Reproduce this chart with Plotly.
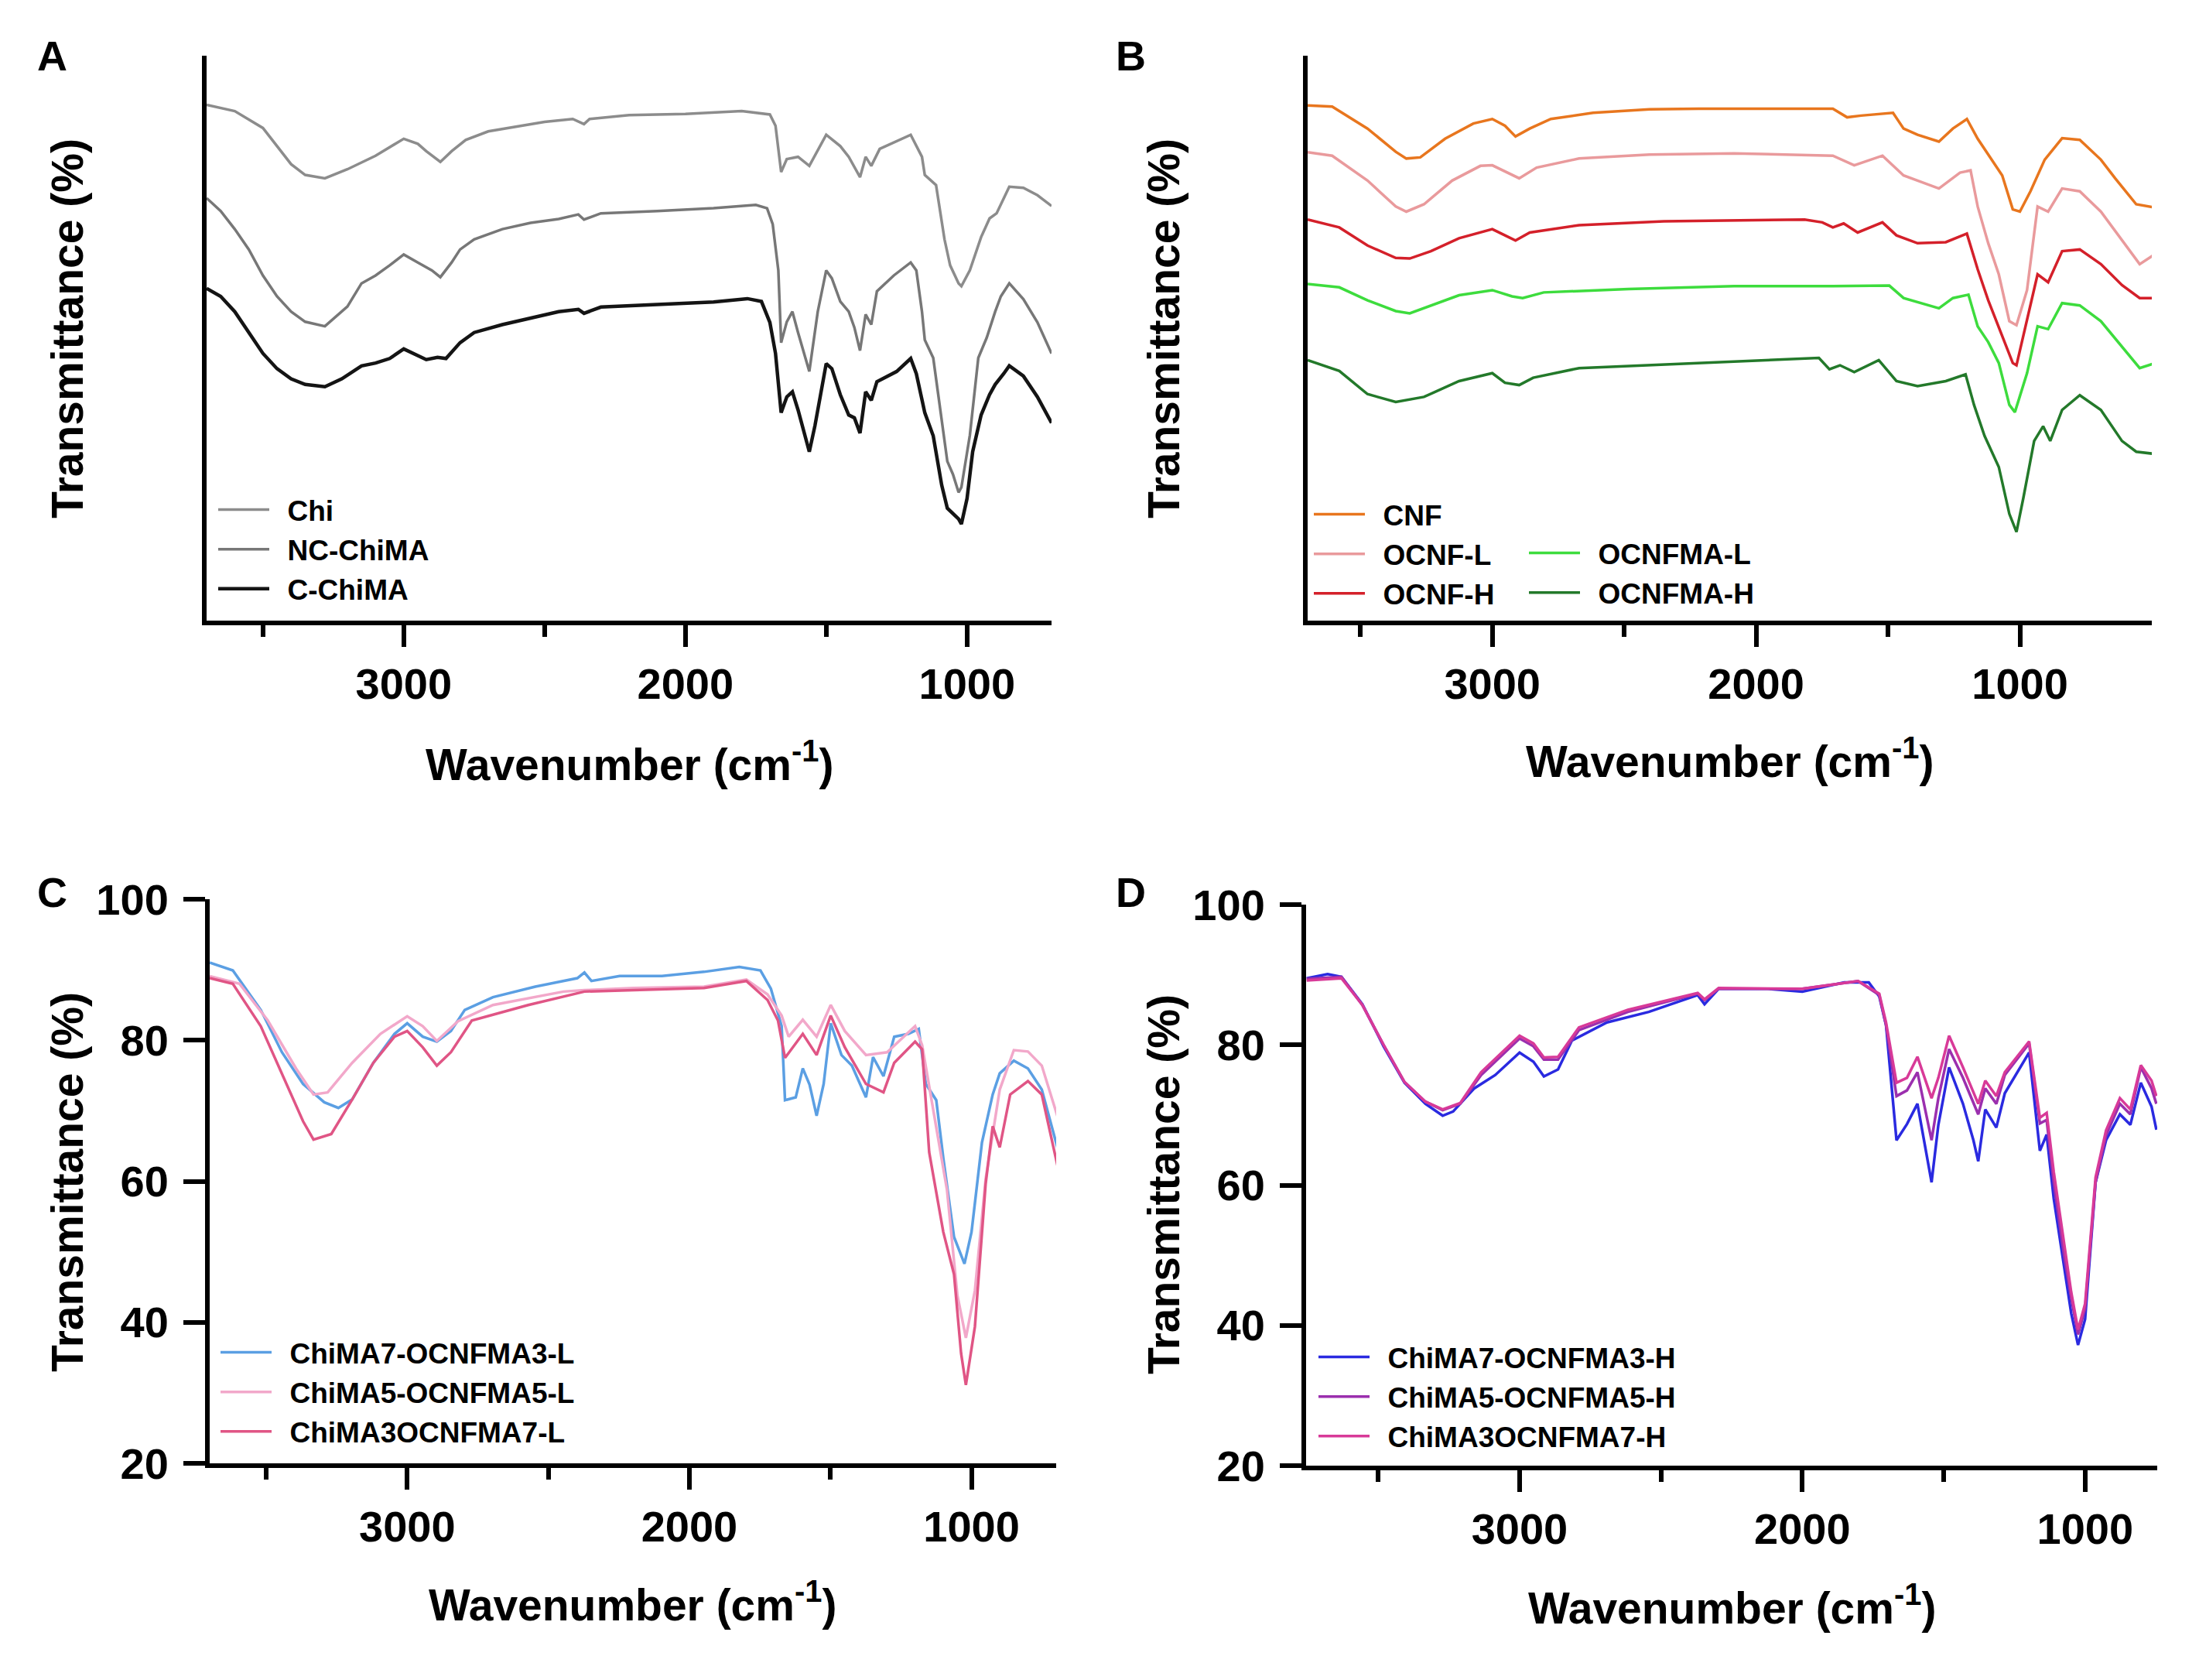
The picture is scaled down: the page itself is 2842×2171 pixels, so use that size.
import plotly.graph_objects as go

FONT = 'Liberation Sans, Arial, Helvetica, sans-serif'
W, H = 2842, 2171
PAD_X, PAD_Y = 6, 8  # offset of the figure div inside the page

# ---------------- panel A (arbitrary offset units, 0-100 of axis height)
chi_wn = [3700, 3600, 3500, 3450, 3400, 3350, 3280, 3200, 3100, 3000, 2950, 2920, 2870, 2830,
          2780, 2700, 2600, 2500, 2400, 2360, 2340, 2200, 2000, 1800, 1700, 1680, 1660, 1640,
          1600, 1560, 1500, 1450, 1420, 1380, 1360, 1340, 1310, 1250, 1200, 1160, 1150, 1110,
          1080, 1060, 1030, 1020, 990, 950, 920, 895, 850, 800, 750, 700]
chi_t = [91.3, 90.2, 87.2, 84.0, 80.8, 78.9, 78.3, 79.9, 82.3, 85.3, 84.4, 83.1, 81.2, 83.1,
         85.1, 86.6, 87.5, 88.3, 88.8, 87.9, 88.8, 89.5, 89.7, 90.2, 89.6, 87.6, 79.4, 81.7,
         82.1, 80.5, 86.0, 84.0, 82.1, 78.5, 82.1, 80.5, 83.5, 84.9, 86.0, 82.1, 78.9, 77.1,
         67.5, 62.9, 59.7, 59.2, 62.0, 67.9, 71.2, 72.1, 76.8, 76.6, 75.3, 73.4]

ncchima_wn = [3700, 3650, 3600, 3550, 3500, 3450, 3400, 3350, 3280, 3200, 3150, 3100, 3050, 3000,
              2950, 2900, 2870, 2830, 2800, 2750, 2650, 2550, 2450, 2380, 2360, 2300, 2100, 1900,
              1750, 1710, 1690, 1670, 1660, 1640, 1620, 1600, 1560, 1530, 1500, 1480, 1450, 1420,
              1400, 1380, 1360, 1340, 1320, 1260, 1200, 1180, 1160, 1150, 1120, 1090, 1070, 1050,
              1030, 1020, 990, 960, 930, 900, 880, 850, 800, 750, 700]
ncchima_t = [74.8, 72.5, 69.3, 65.7, 61.1, 57.4, 54.7, 52.9, 52.1, 55.6, 59.7, 61.1, 62.9, 64.8,
             63.4, 62.0, 60.8, 63.4, 65.7, 67.5, 69.3, 70.4, 71.1, 71.9, 71.0, 72.1, 72.5, 73.0,
             73.6, 73.0, 70.2, 62.0, 49.2, 52.9, 54.7, 51.0, 44.1, 54.7, 62.0, 60.6, 56.5, 54.7,
             51.9, 47.8, 54.2, 52.4, 58.3, 61.1, 63.4, 62.0, 54.7, 49.7, 46.5, 35.5, 28.2, 25.9,
             22.7, 23.6, 32.8, 46.5, 50.1, 54.7, 57.4, 59.7, 56.9, 52.8, 47.3]

cchima_wn = [3700, 3650, 3600, 3550, 3500, 3450, 3400, 3350, 3280, 3220, 3150, 3100, 3050, 3000,
             2950, 2920, 2880, 2850, 2800, 2750, 2650, 2550, 2450, 2380, 2360, 2300, 2100, 1900,
             1780, 1730, 1700, 1680, 1660, 1640, 1620, 1600, 1560, 1540, 1500, 1480, 1450, 1420,
             1400, 1380, 1360, 1340, 1320, 1250, 1200, 1180, 1160, 1150, 1120, 1090, 1070, 1050,
             1030, 1020, 1000, 980, 950, 920, 900, 870, 850, 800, 750, 700]
cchima_t = [58.8, 57.4, 54.7, 51.0, 47.3, 44.6, 42.8, 41.8, 41.4, 42.8, 45.1, 45.6, 46.4, 48.1,
            46.9, 46.2, 46.6, 46.4, 49.2, 51.0, 52.4, 53.6, 54.7, 55.1, 54.4, 55.5, 55.9, 56.4,
            57.0, 56.5, 52.8, 47.3, 36.8, 39.6, 40.5, 37.3, 29.9, 34.5, 45.5, 44.6, 40.0, 36.4,
            35.9, 33.2, 40.5, 39.0, 42.3, 44.1, 46.4, 43.7, 39.1, 36.8, 32.7, 24.0, 19.9, 19.0,
            18.0, 17.1, 21.6, 29.9, 36.4, 40.0, 41.8, 43.7, 45.1, 43.3, 39.6, 35.0]

# ---------------- panel B (arbitrary offset units)
cnf_wn = [3700, 3607, 3473, 3366, 3326, 3273, 3179, 3072, 3000, 2952, 2912, 2858, 2778, 2618,
          2404, 2217, 1949, 1709, 1655, 1602, 1481, 1441, 1388, 1307, 1254, 1201, 1160, 1120,
          1067, 1027, 1000, 960, 906, 840, 773, 693, 639, 559, 487]
cnf_t = [91.2, 91.0, 87.1, 83.0, 81.8, 82.0, 85.3, 88.0, 88.8, 87.6, 85.7, 87.1, 88.8, 89.9,
         90.5, 90.6, 90.6, 90.6, 89.1, 89.4, 89.9, 87.1, 86.0, 84.8, 87.1, 88.8, 85.3, 82.5,
         78.8, 72.8, 72.4, 76.0, 81.6, 85.4, 85.1, 81.6, 78.3, 73.7, 73.1]

ocnf_l_wn = [3700, 3607, 3473, 3366, 3326, 3259, 3152, 3045, 3000, 2939, 2898, 2832, 2671, 2404,
             2083, 1709, 1628, 1521, 1441, 1388, 1307, 1227, 1187, 1160, 1120, 1080, 1040, 1013,
             973, 933, 893, 840, 773, 693, 626, 546, 487]
ocnf_l_t = [82.9, 82.3, 77.9, 73.3, 72.4, 73.7, 77.9, 80.5, 80.6, 79.3, 78.3, 80.2, 81.8, 82.5,
            82.7, 82.3, 80.6, 82.3, 78.8, 77.9, 76.5, 79.3, 79.7, 73.3, 66.8, 61.3, 53.0, 52.3,
            58.5, 73.3, 72.4, 76.5, 76.0, 72.4, 68.2, 63.1, 64.9]

ocnf_h_wn = [3700, 3580, 3473, 3366, 3313, 3233, 3126, 3000, 2952, 2912, 2858, 2671, 2350, 1816,
             1749, 1709, 1668, 1615, 1521, 1468, 1388, 1281, 1201, 1160, 1120, 1067, 1027, 1013,
             973, 933, 893, 840, 773, 693, 613, 546, 487]
ocnf_h_t = [71.0, 69.6, 66.4, 64.2, 64.1, 65.4, 67.7, 69.3, 68.2, 67.3, 68.7, 70.0, 70.7, 71.0,
            70.5, 69.6, 70.3, 68.7, 70.5, 68.2, 66.8, 67.0, 68.5, 62.2, 56.7, 50.2, 45.6, 45.2,
            53.0, 61.3, 59.9, 65.4, 65.7, 63.1, 59.4, 57.1, 57.1]

ocnfma_l_wn = [3700, 3580, 3473, 3366, 3313, 3233, 3126, 3000, 2925, 2885, 2805, 2484, 2083, 1709,
               1495, 1441, 1374, 1307, 1254, 1195, 1160, 1120, 1080, 1040, 1019, 973, 933, 893,
               840, 773, 693, 613, 546, 487]
ocnfma_l_t = [59.6, 59.0, 56.7, 54.8, 54.4, 55.8, 57.6, 58.5, 57.4, 57.1, 58.1, 58.7, 59.2, 59.2,
              59.3, 57.1, 56.2, 55.3, 57.1, 57.7, 52.1, 49.3, 45.6, 38.2, 36.9, 43.8, 52.1, 51.6,
              56.2, 55.8, 53.0, 48.4, 44.7, 45.6]

ocnfma_h_wn = [3700, 3580, 3473, 3366, 3259, 3126, 3000, 2952, 2898, 2845, 2671, 2350, 1816, 1762,
               1722, 1682, 1628, 1535, 1468, 1388, 1281, 1206, 1174, 1134, 1080, 1040, 1013, 987,
               946, 912, 885, 840, 773, 693, 613, 559, 487]
ocnfma_h_t = [46.1, 44.2, 40.1, 38.7, 39.6, 42.4, 43.8, 42.1, 41.7, 43.0, 44.7, 45.3, 46.4, 46.5,
              44.5, 45.2, 44.0, 46.1, 42.4, 41.5, 42.4, 43.6, 38.2, 32.7, 27.2, 18.9, 15.7, 21.7,
              31.8, 34.4, 31.8, 37.3, 39.9, 37.3, 31.8, 29.9, 29.5]

# ---------------- panel C (transmittance %)
c73l_wn = [3700, 3618, 3519, 3444, 3369, 3294, 3244, 3195, 3120, 3045, 3000, 2945, 2895, 2845,
           2796, 2696, 2546, 2397, 2372, 2347, 2247, 2097, 1948, 1823, 1748, 1711, 1673, 1661,
           1623, 1598, 1574, 1549, 1524, 1499, 1461, 1424, 1374, 1349, 1312, 1274, 1224, 1187,
           1162, 1125, 1100, 1062, 1025, 1000, 963, 925, 900, 850, 800, 751, 693]
c73l_t = [91.0, 89.9, 84.3, 78.3, 73.8, 71.2, 70.4, 71.6, 76.8, 80.9, 82.4, 80.5, 79.8, 81.3,
          84.3, 86.1, 87.6, 88.8, 89.6, 88.4, 89.1, 89.1, 89.7, 90.4, 89.9, 87.3, 82.0, 71.5,
          71.9, 76.0, 73.7, 69.3, 73.8, 82.4, 77.9, 76.4, 71.9, 77.6, 74.9, 80.5, 80.9, 81.6,
          73.8, 71.5, 63.3, 52.1, 48.3, 52.8, 65.5, 72.3, 75.3, 77.1, 76.0, 73.0, 64.4]

c55l_wn = [3700, 3594, 3494, 3394, 3332, 3282, 3195, 3095, 3000, 2945, 2895, 2820, 2696, 2446,
           2372, 2197, 1948, 1798, 1723, 1673, 1648, 1598, 1549, 1499, 1449, 1374, 1299, 1200,
           1175, 1125, 1087, 1050, 1020, 988, 950, 900, 850, 800, 751, 693]
c55l_t = [89.1, 88.0, 82.8, 76.0, 72.3, 72.6, 76.8, 80.9, 83.4, 82.0, 79.9, 82.7, 85.0, 86.9,
          87.1, 87.4, 87.6, 88.6, 86.5, 83.5, 80.5, 82.9, 80.5, 85.0, 81.3, 77.9, 78.3, 82.0,
          79.3, 67.8, 58.8, 43.8, 37.8, 44.5, 60.3, 73.0, 78.6, 78.4, 76.4, 68.9]

c37l_wn = [3700, 3618, 3519, 3444, 3369, 3332, 3269, 3195, 3120, 3045, 3000, 2945, 2895, 2845,
           2771, 2571, 2372, 2197, 1948, 1798, 1723, 1686, 1661, 1598, 1549, 1499, 1449, 1374,
           1312, 1274, 1200, 1175, 1150, 1100, 1062, 1037, 1020, 988, 950, 925, 900, 863, 800,
           751, 693]
c37l_t = [88.8, 88.0, 82.0, 75.3, 68.5, 65.9, 66.7, 71.6, 76.8, 80.5, 81.3, 79.0, 76.4, 78.3,
          82.8, 85.0, 86.9, 87.1, 87.4, 88.4, 85.7, 82.8, 77.5, 80.9, 77.9, 83.5, 79.0, 73.8,
          72.6, 76.8, 79.8, 78.7, 64.1, 52.8, 46.8, 35.6, 31.1, 39.4, 59.6, 67.8, 64.8, 72.3,
          74.2, 72.3, 61.8]

# ---------------- panel D (transmittance %)
d73h_wn = [3753, 3679, 3630, 3556, 3481, 3407, 3333, 3272, 3235, 3160, 3086, 3000, 2951, 2914,
           2864, 2815, 2691, 2543, 2370, 2346, 2296, 2123, 2000, 1852, 1765, 1728, 1704, 1667,
           1630, 1593, 1543, 1519, 1481, 1432, 1395, 1378, 1353, 1314, 1284, 1198, 1160, 1136,
           1111, 1074, 1049, 1025, 1000, 963, 926, 877, 840, 803, 765, 748]
d73h_t = [89.5, 90.1, 89.7, 85.8, 79.8, 74.6, 71.6, 69.9, 70.5, 73.8, 75.7, 78.9, 77.6, 75.5,
          76.5, 80.6, 83.2, 84.7, 87.1, 85.8, 88.0, 88.0, 87.6, 88.9, 88.9, 86.9, 82.8, 66.4,
          68.7, 71.6, 60.4, 68.6, 76.8, 71.6, 66.4, 63.4, 70.8, 68.2, 73.1, 78.9, 64.9, 67.2,
          58.1, 48.4, 41.7, 37.2, 40.9, 60.4, 66.4, 70.1, 68.6, 74.6, 71.2, 67.9]

dh_wn = [3753, 3630, 3556, 3481, 3407, 3333, 3272, 3210, 3136, 3000, 2951, 2914, 2864, 2790,
         2617, 2370, 2346, 2296, 2000, 1803, 1728, 1704, 1667, 1630, 1593, 1543, 1519, 1481,
         1432, 1378, 1353, 1314, 1284, 1198, 1160, 1136, 1111, 1074, 1049, 1025, 1000, 963,
         926, 877, 840, 803, 765, 748]
d55h_t = [89.4, 89.7, 85.7, 80.0, 74.7, 71.9, 70.7, 71.6, 75.7, 80.9, 79.8, 77.9, 77.9, 82.1,
          84.7, 87.3, 86.4, 88.0, 88.0, 89.1, 87.1, 82.8, 72.7, 73.5, 76.1, 66.4, 72.4, 79.4,
          75.3, 70.1, 73.8, 71.6, 75.7, 80.2, 68.8, 69.3, 60.4, 49.9, 43.9, 38.7, 42.4, 60.4,
          67.1, 71.6, 70.1, 76.8, 73.8, 71.6]
d37h_t = [89.2, 89.5, 85.7, 80.0, 74.7, 71.9, 70.8, 71.7, 76.1, 81.3, 80.2, 78.2, 78.3, 82.5,
          85.0, 87.4, 86.5, 88.1, 88.0, 89.1, 87.3, 83.2, 74.6, 75.3, 78.3, 72.4, 75.3, 81.3,
          76.8, 71.6, 74.9, 72.7, 76.1, 80.5, 69.6, 70.3, 61.9, 51.4, 44.7, 39.4, 43.1, 61.1,
          67.8, 72.4, 70.8, 77.1, 74.9, 72.7]

x_major = [3000, 2000, 1000]
x_minor = [3500, 2500, 1500]
y_ticks_ct = [20, 40, 60, 80, 100]


# page pixel -> paper fraction
def px_x(v):
    return (v - PAD_X) / W


def px_y(v):
    return 1 - (v - PAD_Y) / H


fig = go.Figure()
GAP = '\u2002'  # a little air between legend key and label


def add_line(x, y, name, color, width, axis, legend):
    fig.add_trace(go.Scatter(x=x, y=y, name=GAP + name, mode='lines',
                             line=dict(color=color, width=width),
                             xaxis='x' + axis, yaxis='y' + axis, legend=legend))


add_line(chi_wn, chi_t, 'Chi', '#8c8c8c', 3.5, '', 'legend')
add_line(ncchima_wn, ncchima_t, 'NC-ChiMA', '#777777', 3.5, '', 'legend')
add_line(cchima_wn, cchima_t, 'C-ChiMA', '#141414', 4.5, '', 'legend')

add_line(cnf_wn, cnf_t, 'CNF', '#e8761e', 3.5, '2', 'legend2')
add_line(ocnf_l_wn, ocnf_l_t, 'OCNF-L', '#e99a9c', 3.5, '2', 'legend2')
add_line(ocnf_h_wn, ocnf_h_t, 'OCNF-H', '#d4202a', 3.5, '2', 'legend2')
add_line(ocnfma_l_wn, ocnfma_l_t, 'OCNFMA-L', '#3ddc3d', 3.5, '2', 'legend3')
add_line(ocnfma_h_wn, ocnfma_h_t, 'OCNFMA-H', '#23792a', 3.5, '2', 'legend3')

add_line(c73l_wn, c73l_t, 'ChiMA7-OCNFMA3-L', '#5b9fe3', 3.5, '3', 'legend4')
add_line(c55l_wn, c55l_t, 'ChiMA5-OCNFMA5-L', '#f2a8ca', 3.5, '3', 'legend4')
add_line(c37l_wn, c37l_t, 'ChiMA3OCNFMA7-L', '#e05585', 3.5, '3', 'legend4')

add_line(d73h_wn, d73h_t, 'ChiMA7-OCNFMA3-H', '#2a2ae0', 3.5, '4', 'legend5')
add_line(dh_wn, d55h_t, 'ChiMA5-OCNFMA5-H', '#9b2fae', 3.5, '4', 'legend5')
add_line(dh_wn, d37h_t, 'ChiMA3OCNFMA7-H', '#d83a98', 3.5, '4', 'legend5')

tick_font = dict(family=FONT, size=56, color='black', weight='bold')


def x_axis(left, right, rng, anchor):
    return dict(domain=[px_x(left), px_x(right)], range=rng, anchor=anchor, automargin=False,
                showline=True, linecolor='black', linewidth=6, showgrid=False, zeroline=False,
                ticks='outside', ticklen=28, tickwidth=6, tickcolor='black',
                tickmode='array', tickvals=x_major, ticklabelstandoff=0, tickfont=tick_font,
                minor=dict(tickmode='array', tickvals=x_minor, ticks='outside', ticklen=15,
                           tickwidth=6, tickcolor='black', showgrid=False))


def y_axis(top, bottom, rng, anchor, labelled):
    ax = dict(domain=[px_y(bottom), px_y(top)], range=rng, anchor=anchor, automargin=False,
              showline=True, linecolor='black', linewidth=6, showgrid=False, zeroline=False)
    if labelled:
        ax.update(ticks='outside', ticklen=28, tickwidth=6, tickcolor='black',
                  tickmode='array', tickvals=y_ticks_ct, ticklabelstandoff=8, tickfont=tick_font)
    else:
        ax.update(ticks='', showticklabels=False)
    return ax


legend_font = dict(family=FONT, size=37, color='black', weight='bold')


def legend_at(x, y):
    return dict(x=px_x(x), y=px_y(y), xanchor='left', yanchor='top', bgcolor='rgba(0,0,0,0)',
                font=legend_font, itemwidth=66, tracegroupgap=0, traceorder='normal')


annotations = []


def text(x, y, s, size=56, angle=0):
    annotations.append(dict(x=px_x(x), y=px_y(y), xref='paper', yref='paper', text=s,
                            showarrow=False, textangle=angle, xanchor='center', yanchor='middle',
                            font=dict(family=FONT, size=size, color='black', weight='bold')))


for letter, lx, ly in [('A', 65, 72), ('B', 1459, 72), ('C', 65, 1153), ('D', 1459, 1153)]:
    text(lx, ly, letter, size=54)

xtitle = 'Wavenumber (cm<sup>-1</sup>)'
text(811, 984, xtitle, size=57)
text(2233, 980, xtitle, size=57)
text(815, 2070, xtitle, size=57)
text(2236, 2074, xtitle, size=57)

ytitle = 'Transmittance (%)'
text(85, 425, ytitle, size=57, angle=-90)
text(1502, 425, ytitle, size=57, angle=-90)
text(85, 1528, ytitle, size=57, angle=-90)
text(1502, 1531, ytitle, size=57, angle=-90)

fig.update_layout(
    width=W, height=H,
    margin=dict(l=0, r=0, t=0, b=0, autoexpand=False),
    plot_bgcolor='white', paper_bgcolor='white',
    showlegend=True,
    xaxis=x_axis(265, 1357, [3700, 700], 'y'),
    yaxis=y_axis(72, 802, [0, 100], 'x', False),
    xaxis2=x_axis(1688, 2779, [3700, 500], 'y2'),
    yaxis2=y_axis(72, 802, [0, 100], 'x2', False),
    xaxis3=x_axis(269, 1363, [3700, 700], 'y3'),
    yaxis3=y_axis(1162, 1891, [20, 100], 'x3', True),
    xaxis4=x_axis(1686, 2786, [3755, 745], 'y4'),
    yaxis4=y_axis(1169, 1894, [20, 100], 'x4', True),
    legend=legend_at(275, 628),
    legend2=legend_at(1691, 634),
    legend3=legend_at(1969, 684),
    legend4=legend_at(278, 1717),
    legend5=legend_at(1697, 1723),
    annotations=annotations,
)

fig.write_html("out.html")
